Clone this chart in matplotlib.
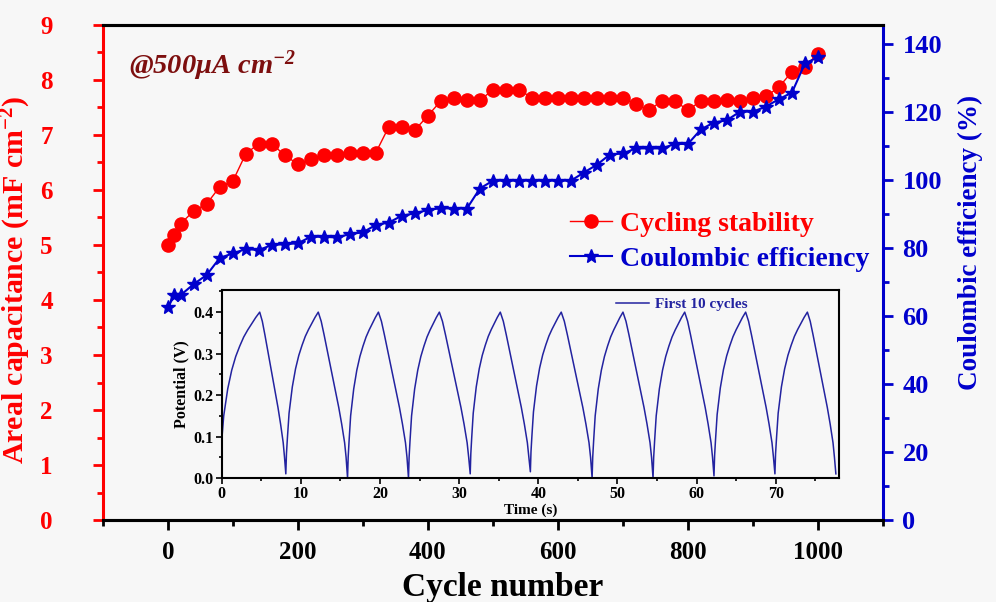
import matplotlib
matplotlib.use('Agg')
import matplotlib.pyplot as plt
from matplotlib.ticker import MultipleLocator

plt.rcParams['font.family'] = ['Liberation Serif', 'DejaVu Serif']
plt.rcParams['font.weight'] = 'bold'
plt.rcParams['mathtext.default'] = 'regular'

# main chart data
cycles = [1, 10, 20, 40, 60, 80, 100, 120, 140, 160, 180, 200, 220, 240, 260,
          280, 300, 320, 340, 360, 380, 400, 420, 440, 460, 480, 500, 520, 540,
          560, 580, 600, 620, 640, 660, 680, 700, 720, 740, 760, 780, 800, 820,
          840, 860, 880, 900, 920, 940, 960, 980, 1000]
capacitance = [5.00, 5.19, 5.39, 5.62, 5.75, 6.06, 6.16, 6.66, 6.84, 6.84, 6.63,
               6.47, 6.56, 6.63, 6.63, 6.68, 6.68, 6.68, 7.15, 7.15, 7.09, 7.35,
               7.62, 7.68, 7.63, 7.63, 7.82, 7.82, 7.82, 7.68, 7.68, 7.68, 7.68,
               7.68, 7.68, 7.68, 7.68, 7.56, 7.45, 7.62, 7.62, 7.45, 7.62, 7.62,
               7.64, 7.62, 7.68, 7.70, 7.87, 8.15, 8.24, 8.48]
efficiency = [62.7, 66.2, 66.2, 69.4, 72.1, 77.1, 78.4, 79.7, 79.4, 80.9, 81.1,
              81.4, 83.3, 83.3, 83.1, 84.1, 84.6, 86.8, 87.5, 89.5, 90.2, 91.2,
              91.7, 91.6, 91.6, 97.5, 99.8, 99.8, 99.8, 99.8, 99.8, 99.8, 99.8,
              102.2, 104.5, 107.5, 107.8, 109.3, 109.3, 109.3, 110.6, 110.6,
              114.9, 116.9, 117.6, 120.1, 120.1, 121.6, 123.8, 125.7, 134.3, 136.1]

# inset: first 10 charge/discharge cycles
peak_t = [4.8, 12.2, 19.8, 27.5, 35.2, 42.9, 50.7, 58.5, 66.2, 74.0]
valley_t = [8.1, 15.9, 23.6, 31.4, 39.0, 46.8, 54.5, 62.2, 69.9, 77.6]
valley_v = [0.01, 0.0, 0.0, 0.01, 0.015, 0.0, 0.0, 0.005, 0.01, 0.01]
start_t, start_v = -0.25, 0.0
peak_v = 0.4
# shape of one branch, read from the second cycle (fraction of branch time, V)
charge_frac = [0, 0.02, 0.05, 0.1, 0.2, 0.3, 0.4, 0.5, 0.6, 0.7, 0.8, 0.9, 1.0]
charge_v = [0, 0.05, 0.09, 0.15, 0.215, 0.26, 0.293, 0.318, 0.34, 0.357, 0.372, 0.387, 0.4]
dis_frac = [0, 0.1, 0.2, 0.3, 0.4, 0.5, 0.6, 0.7, 0.8, 0.9, 0.95, 1.0]
dis_v = [0.4, 0.378, 0.345, 0.31, 0.275, 0.24, 0.205, 0.17, 0.13, 0.085, 0.05, 0.0]

t_all, v_all = [], []
t0, v0 = start_t, start_v
for tp, tv, vv in zip(peak_t, valley_t, valley_v):
    for f, s in zip(charge_frac, charge_v):
        t_all.append(t0 + f * (tp - t0))
        v_all.append(v0 + (peak_v - v0) * s / peak_v)
    for f, s in zip(dis_frac[1:], dis_v[1:]):
        t_all.append(tp + f * (tv - tp))
        v_all.append(max(s, vv) if f < 1 else vv)
    t0, v0 = tv, vv

bg = '#f7f7f7'
red = '#ff0000'
blue = '#0000cc'

fig = plt.figure(figsize=(9.96, 6.02), dpi=100, facecolor=bg)
ax = fig.add_axes([0.1032, 0.1362, 0.7833, 0.8223], facecolor=bg)
ax2 = ax.twinx()

l1, = ax.plot(cycles, capacitance, '-', color=red, lw=1, marker='o', ms=9.5,
              label='Cycling stability')
l2, = ax2.plot(cycles, efficiency, '-', color=blue, lw=1.5, marker='*', ms=10.5,
               label='Coulombic efficiency')

ax.set_xlim(-100, 1100)
ax.set_ylim(0, 9)
ax2.set_ylim(0, 145.6)
ax.xaxis.set_major_locator(MultipleLocator(200))
ax.xaxis.set_minor_locator(MultipleLocator(100))
ax.yaxis.set_major_locator(MultipleLocator(1))
ax.yaxis.set_minor_locator(MultipleLocator(0.5))
ax2.yaxis.set_major_locator(MultipleLocator(20))
ax2.yaxis.set_minor_locator(MultipleLocator(10))

for a in (ax, ax2):
    for s in a.spines.values():
        s.set_linewidth(2.2)
ax.spines['left'].set_color(red)
ax2.spines['left'].set_visible(False)
ax2.spines['right'].set_color(blue)
ax.spines['right'].set_visible(False)

ax.tick_params(axis='x', which='major', length=7, width=2, labelsize=18, pad=8)
ax.tick_params(axis='x', which='minor', length=4, width=2)
ax.tick_params(axis='y', which='major', length=7, width=2, labelsize=18,
               colors=red, pad=29)
ax.tick_params(axis='y', which='minor', length=4, width=2, colors=red)
ax2.tick_params(axis='y', which='major', length=7, width=2, labelsize=19,
                colors=blue, pad=7)
ax2.tick_params(axis='y', which='minor', length=4, width=2, colors=blue)

ax.set_xlabel('Cycle number', fontsize=24, fontweight='bold')
ax.xaxis.set_label_coords(0.512, -0.105)
ax.set_ylabel('Areal capacitance (mF cm$^{-2}$)', fontsize=21.5,
              fontweight='bold', color=red)
ax.yaxis.set_label_coords(-0.09, 0.485)
ax2.set_ylabel('Coulombic efficiency (%)', fontsize=19.5, fontweight='bold',
               color=blue)
ax2.yaxis.set_label_coords(1.096, 0.56)

ax.text(0.033, 0.917, '@500μA cm$^{-2}$', transform=ax.transAxes,
        fontsize=20.5, fontweight='bold', fontstyle='italic', color='#7d0f0f',
        va='center', ha='left')

ax2.legend(handles=[l1, l2], loc='upper left', bbox_to_anchor=(0.599, 0.624),
           frameon=False, fontsize=20, handlelength=1.5, handletextpad=0.3,
           labelspacing=0.35, borderpad=0, borderaxespad=0,
           labelcolor=[red, blue])

# inset
ins = fig.add_axes([0.2226, 0.206, 0.6198, 0.312], facecolor=bg)
ins.plot(t_all, v_all, color='#2323a0', lw=1.1, label='First 10 cycles')
ins.set_xlim(0, 78)
ins.set_ylim(0, 0.453)
ins.xaxis.set_major_locator(MultipleLocator(10))
ins.xaxis.set_minor_locator(MultipleLocator(5))
ins.yaxis.set_major_locator(MultipleLocator(0.1))
ins.yaxis.set_minor_locator(MultipleLocator(0.05))
ins.yaxis.set_major_formatter(plt.FormatStrFormatter('%.1f'))
ins.tick_params(which='major', length=4, width=1.2, labelsize=11.5, pad=2)
ins.tick_params(which='minor', length=2.5, width=1.2)
for s in ins.spines.values():
    s.set_linewidth(1.5)
ins.set_xlabel('Time (s)', fontsize=11, fontweight='bold', labelpad=1)
ins.set_ylabel('Potential (V)', fontsize=11.5, fontweight='bold', labelpad=3)
ins.legend(loc='upper right', frameon=False, fontsize=11, handlelength=2.2,
           handletextpad=0.4, borderaxespad=0.1, labelcolor='#2323a0',
           bbox_to_anchor=(0.865, 1.0))

fig.savefig('out.png', dpi=100, facecolor=bg)
